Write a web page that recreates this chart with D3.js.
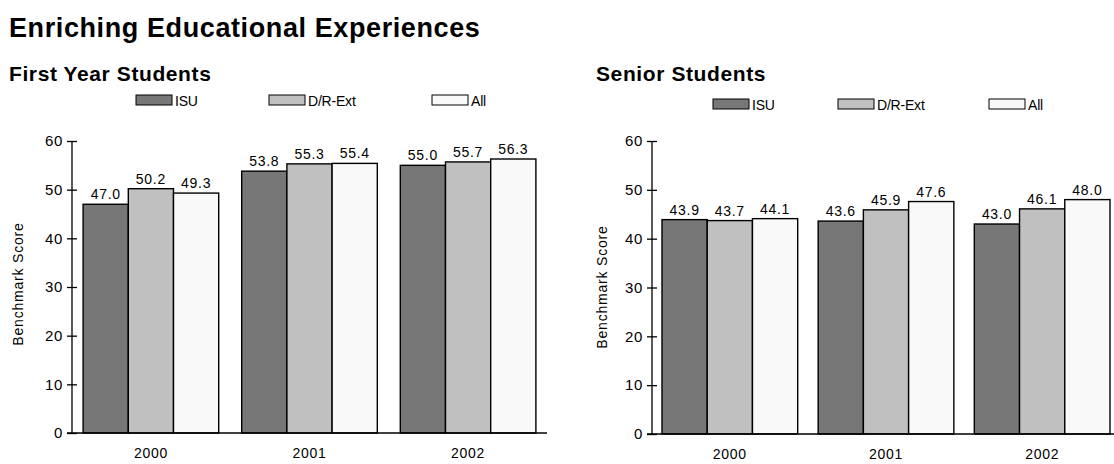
<!DOCTYPE html>
<html>
<head>
<meta charset="utf-8">
<script src="https://cdn.jsdelivr.net/npm/d3@7"></script>
<style>
  html, body { margin: 0; padding: 0; background: #fff; }
  svg { display: block; font-family: "Liberation Sans", Arial, sans-serif; }
</style>
</head>
<body>
<svg id="chart" width="1114" height="464"></svg>
<script>
// Benchmark scores by year and comparison group
const years = ["2000", "2001", "2002"];
const groups = ["ISU", "D/R-Ext", "All"];
const firstYearISU = [47.0, 53.8, 55.0];
const firstYearDR = [50.2, 55.3, 55.7];
const firstYearAll = [49.3, 55.4, 56.3];
const seniorISU = [43.9, 43.6, 43.0];
const seniorDR = [43.7, 45.9, 46.1];
const seniorAll = [44.1, 47.6, 48.0];
const yTicks = [0, 10, 20, 30, 40, 50, 60];

const colors = { "ISU": "#777777", "D/R-Ext": "#c0c0c0", "All": "#f9f9f9" };
const labelSize = 14;
const labelSpacing = 0.7;

const svg = d3.select("#chart");

svg.append("text")
  .attr("x", 9).attr("y", 37)
  .attr("font-size", 27).attr("font-weight", "bold")
  .attr("letter-spacing", 0.6)
  .text("Enriching Educational Experiences");

function drawPanel(cfg) {
  const series = [cfg.isu, cfg.dr, cfg.all];
  const rows = years.map((yr, i) => ({
    year: yr,
    vals: groups.map((g, j) => ({ group: g, value: series[j][i] }))
  }));

  const x0 = d3.scaleBand().domain(years)
    .range([cfg.left, cfg.right])
    .paddingInner(cfg.padInner).paddingOuter(cfg.padOuter);
  const x1 = d3.scaleBand().domain(groups).range([0, x0.bandwidth()]).padding(0);
  const y = d3.scaleLinear().domain([0, 60]).range([cfg.bottom, cfg.top]);

  // subtitle
  svg.append("text")
    .attr("x", cfg.titleX).attr("y", cfg.titleY)
    .attr("font-size", 21).attr("font-weight", "bold")
    .attr("letter-spacing", 0.6)
    .text(cfg.title);

  // legend
  const lg = svg.append("g");
  groups.forEach((g, i) => {
    const lx = cfg.legendX[i];
    lg.append("rect")
      .attr("x", lx).attr("y", cfg.legendY)
      .attr("width", 36).attr("height", 10)
      .attr("fill", colors[g]).attr("stroke", "#000").attr("stroke-width", 1);
    lg.append("text")
      .attr("x", lx + 39).attr("y", cfg.legendY + 10.5)
      .attr("font-size", 14).attr("letter-spacing", -0.2)
      .text(g);
  });

  // y axis
  const yAxis = svg.append("g")
    .attr("transform", `translate(${cfg.left},0)`)
    .call(d3.axisLeft(y).tickValues(yTicks).tickSize(5).tickPadding(4));
  yAxis.select(".domain").remove();
  yAxis.selectAll(".tick line").attr("x1", -5).attr("x2", 5).attr("stroke", "#000").attr("stroke-width", 1.3);
  yAxis.selectAll(".tick text")
    .attr("font-size", 15).attr("letter-spacing", labelSpacing)
    .attr("font-family", "Liberation Sans, Arial, sans-serif").attr("fill", "#000");
  svg.append("line")
    .attr("x1", cfg.left).attr("x2", cfg.left)
    .attr("y1", y(0)).attr("y2", y(60))
    .attr("stroke", "#000").attr("stroke-width", 1.3);

  // axis title
  svg.append("text")
    .attr("transform", `translate(${cfg.yTitleX},${cfg.yTitleY}) rotate(-90)`)
    .attr("text-anchor", "middle")
    .attr("font-size", labelSize).attr("letter-spacing", 0.8)
    .text("Benchmark Score");

  // bars
  const gYear = svg.append("g").selectAll("g").data(rows).join("g")
    .attr("transform", d => `translate(${x0(d.year)},0)`);

  gYear.selectAll("rect").data(d => d.vals).join("rect")
    .attr("x", d => x1(d.group))
    .attr("y", d => y(d.value))
    .attr("width", x1.bandwidth())
    .attr("height", d => y(0) - y(d.value))
    .attr("fill", d => colors[d.group])
    .attr("stroke", "#000").attr("stroke-width", 1.4);

  gYear.selectAll("text").data(d => d.vals).join("text")
    .attr("x", d => x1(d.group) + x1.bandwidth() / 2)
    .attr("y", d => y(d.value) - 5)
    .attr("text-anchor", "middle")
    .attr("font-size", labelSize).attr("letter-spacing", labelSpacing)
    .text(d => d.value.toFixed(1));

  // x axis
  svg.append("line")
    .attr("x1", cfg.left - 5).attr("x2", cfg.right)
    .attr("y1", y(0)).attr("y2", y(0))
    .attr("stroke", "#000").attr("stroke-width", 1.3);
  svg.append("g").selectAll("text").data(years).join("text")
    .attr("x", d => x0(d) + x0.bandwidth() / 2)
    .attr("y", cfg.bottom + 25)
    .attr("text-anchor", "middle")
    .attr("font-size", labelSize).attr("letter-spacing", labelSpacing)
    .text(d => d);
}

drawPanel({
  title: "First Year Students", titleX: 9, titleY: 81,
  isu: firstYearISU, dr: firstYearDR, all: firstYearAll,
  left: 72, right: 547, top: 141, bottom: 433,
  padInner: 0.145, padOuter: 0.07,
  legendX: [136, 269, 432], legendY: 95,
  yTitleX: 23, yTitleY: 284
});

drawPanel({
  title: "Senior Students", titleX: 596, titleY: 81,
  isu: seniorISU, dr: seniorDR, all: seniorAll,
  left: 652, right: 1120, top: 141, bottom: 434,
  padInner: 0.131, padOuter: 0.064,
  legendX: [713, 838, 989], legendY: 99,
  yTitleX: 607, yTitleY: 287
});
</script>
</body>
</html>
